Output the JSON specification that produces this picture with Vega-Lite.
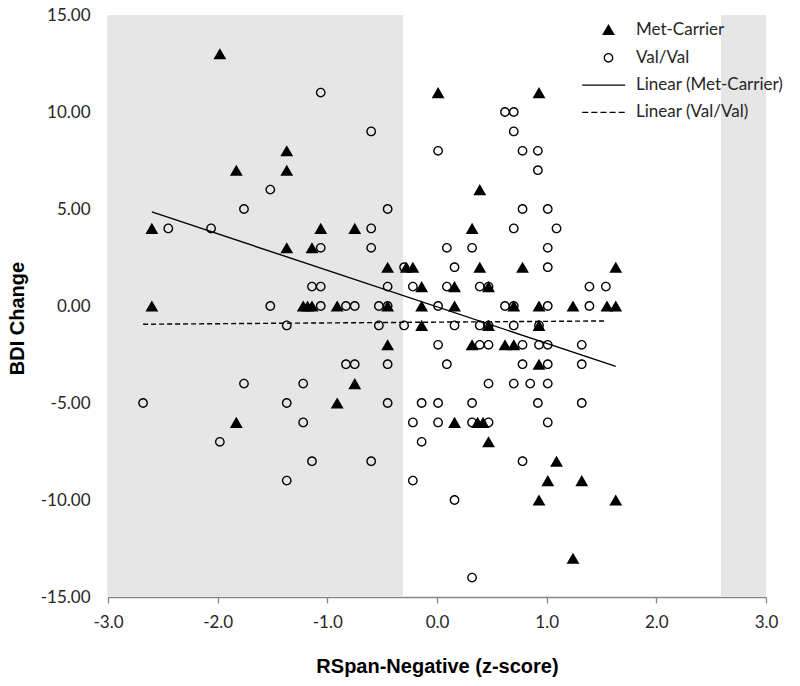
{
  "$schema": "https://vega.github.io/schema/vega-lite/v6.json",
  "width": 658,
  "height": 582,
  "autosize": {"type": "none"},
  "padding": {"left": 108, "top": 15, "right": 34, "bottom": 89},
  "background": "white",
  "datasets": {
    "shade": [
      {"x0": -3, "x1": -0.31},
      {"x0": 2.59, "x1": 3}
    ],
    "trend": [
      {"group": "Linear (Met-Carrier)", "x": -2.6, "y": 4.85},
      {"group": "Linear (Met-Carrier)", "x": 1.63, "y": -3.11},
      {"group": "Linear (Val/Val)", "x": -2.68, "y": -0.94},
      {"group": "Linear (Val/Val)", "x": 1.54, "y": -0.77}
    ],
    "points": [
      {"group": "Met-Carrier", "x": -2.6, "y": 4},
      {"group": "Met-Carrier", "x": -2.6, "y": 0},
      {"group": "Met-Carrier", "x": -1.98, "y": 13},
      {"group": "Met-Carrier", "x": -1.83, "y": 7},
      {"group": "Met-Carrier", "x": -1.83, "y": -6},
      {"group": "Met-Carrier", "x": -1.37, "y": 8},
      {"group": "Met-Carrier", "x": -1.37, "y": 7},
      {"group": "Met-Carrier", "x": -1.37, "y": 3},
      {"group": "Met-Carrier", "x": -1.14, "y": 3},
      {"group": "Met-Carrier", "x": -1.06, "y": 4},
      {"group": "Met-Carrier", "x": -1.22, "y": 0},
      {"group": "Met-Carrier", "x": -1.18, "y": 0},
      {"group": "Met-Carrier", "x": -1.14, "y": 0},
      {"group": "Met-Carrier", "x": -0.91, "y": 0},
      {"group": "Met-Carrier", "x": -0.91, "y": -5},
      {"group": "Met-Carrier", "x": -0.75, "y": 4},
      {"group": "Met-Carrier", "x": -0.75, "y": -4},
      {"group": "Met-Carrier", "x": -0.45, "y": 2},
      {"group": "Met-Carrier", "x": -0.28, "y": 2},
      {"group": "Met-Carrier", "x": -0.22, "y": 2},
      {"group": "Met-Carrier", "x": -0.45, "y": 0},
      {"group": "Met-Carrier", "x": -0.45, "y": -2},
      {"group": "Met-Carrier", "x": -0.14, "y": 1},
      {"group": "Met-Carrier", "x": -0.14, "y": 0},
      {"group": "Met-Carrier", "x": -0.14, "y": -1},
      {"group": "Met-Carrier", "x": 0.01, "y": 11},
      {"group": "Met-Carrier", "x": 0.16, "y": 1},
      {"group": "Met-Carrier", "x": 0.16, "y": 0},
      {"group": "Met-Carrier", "x": 0.16, "y": -6},
      {"group": "Met-Carrier", "x": 0.32, "y": 4},
      {"group": "Met-Carrier", "x": 0.32, "y": -2},
      {"group": "Met-Carrier", "x": 0.39, "y": 6},
      {"group": "Met-Carrier", "x": 0.39, "y": 2},
      {"group": "Met-Carrier", "x": 0.37, "y": -6},
      {"group": "Met-Carrier", "x": 0.42, "y": -6},
      {"group": "Met-Carrier", "x": 0.47, "y": 1},
      {"group": "Met-Carrier", "x": 0.47, "y": -1},
      {"group": "Met-Carrier", "x": 0.47, "y": -7},
      {"group": "Met-Carrier", "x": 0.62, "y": -2},
      {"group": "Met-Carrier", "x": 0.7, "y": -2},
      {"group": "Met-Carrier", "x": 0.7, "y": 0},
      {"group": "Met-Carrier", "x": 0.78, "y": 2},
      {"group": "Met-Carrier", "x": 0.93, "y": 11},
      {"group": "Met-Carrier", "x": 0.93, "y": 0},
      {"group": "Met-Carrier", "x": 0.93, "y": -1},
      {"group": "Met-Carrier", "x": 0.93, "y": -3},
      {"group": "Met-Carrier", "x": 0.93, "y": -10},
      {"group": "Met-Carrier", "x": 1.01, "y": -9},
      {"group": "Met-Carrier", "x": 1.09, "y": -8},
      {"group": "Met-Carrier", "x": 1.24, "y": 0},
      {"group": "Met-Carrier", "x": 1.24, "y": -13},
      {"group": "Met-Carrier", "x": 1.32, "y": -9},
      {"group": "Met-Carrier", "x": 1.55, "y": 0},
      {"group": "Met-Carrier", "x": 1.63, "y": 0},
      {"group": "Met-Carrier", "x": 1.63, "y": 2},
      {"group": "Met-Carrier", "x": 1.63, "y": -10},
      {"group": "Val/Val", "x": -2.68, "y": -5},
      {"group": "Val/Val", "x": -2.45, "y": 4},
      {"group": "Val/Val", "x": -2.06, "y": 4},
      {"group": "Val/Val", "x": -1.98, "y": -7},
      {"group": "Val/Val", "x": -1.76, "y": 5},
      {"group": "Val/Val", "x": -1.76, "y": -4},
      {"group": "Val/Val", "x": -1.52, "y": 6},
      {"group": "Val/Val", "x": -1.52, "y": 0},
      {"group": "Val/Val", "x": -1.37, "y": -1},
      {"group": "Val/Val", "x": -1.37, "y": -5},
      {"group": "Val/Val", "x": -1.37, "y": -9},
      {"group": "Val/Val", "x": -1.22, "y": -4},
      {"group": "Val/Val", "x": -1.22, "y": -6},
      {"group": "Val/Val", "x": -1.14, "y": 1},
      {"group": "Val/Val", "x": -1.06, "y": 1},
      {"group": "Val/Val", "x": -1.06, "y": 3},
      {"group": "Val/Val", "x": -1.06, "y": 11},
      {"group": "Val/Val", "x": -1.14, "y": -8},
      {"group": "Val/Val", "x": -1.06, "y": 0},
      {"group": "Val/Val", "x": -0.83, "y": 0},
      {"group": "Val/Val", "x": -0.75, "y": 0},
      {"group": "Val/Val", "x": -0.83, "y": -3},
      {"group": "Val/Val", "x": -0.75, "y": -3},
      {"group": "Val/Val", "x": -0.6, "y": 9},
      {"group": "Val/Val", "x": -0.6, "y": 4},
      {"group": "Val/Val", "x": -0.6, "y": 3},
      {"group": "Val/Val", "x": -0.6, "y": -8},
      {"group": "Val/Val", "x": -0.53, "y": 0},
      {"group": "Val/Val", "x": -0.53, "y": -1},
      {"group": "Val/Val", "x": -0.45, "y": 5},
      {"group": "Val/Val", "x": -0.45, "y": 1},
      {"group": "Val/Val", "x": -0.45, "y": 0},
      {"group": "Val/Val", "x": -0.45, "y": -3},
      {"group": "Val/Val", "x": -0.45, "y": -5},
      {"group": "Val/Val", "x": -0.3, "y": 2},
      {"group": "Val/Val", "x": -0.3, "y": -1},
      {"group": "Val/Val", "x": -0.22, "y": 1},
      {"group": "Val/Val", "x": -0.22, "y": -6},
      {"group": "Val/Val", "x": -0.22, "y": -9},
      {"group": "Val/Val", "x": -0.14, "y": -5},
      {"group": "Val/Val", "x": -0.14, "y": -7},
      {"group": "Val/Val", "x": 0.01, "y": 8},
      {"group": "Val/Val", "x": 0.01, "y": 0},
      {"group": "Val/Val", "x": 0.01, "y": -2},
      {"group": "Val/Val", "x": 0.01, "y": -5},
      {"group": "Val/Val", "x": 0.01, "y": -6},
      {"group": "Val/Val", "x": 0.09, "y": 3},
      {"group": "Val/Val", "x": 0.09, "y": 1},
      {"group": "Val/Val", "x": 0.09, "y": -3},
      {"group": "Val/Val", "x": 0.16, "y": 2},
      {"group": "Val/Val", "x": 0.16, "y": -1},
      {"group": "Val/Val", "x": 0.16, "y": -10},
      {"group": "Val/Val", "x": 0.32, "y": 3},
      {"group": "Val/Val", "x": 0.32, "y": -5},
      {"group": "Val/Val", "x": 0.32, "y": -6},
      {"group": "Val/Val", "x": 0.32, "y": -14},
      {"group": "Val/Val", "x": 0.39, "y": 1},
      {"group": "Val/Val", "x": 0.39, "y": -1},
      {"group": "Val/Val", "x": 0.39, "y": -2},
      {"group": "Val/Val", "x": 0.47, "y": 1},
      {"group": "Val/Val", "x": 0.47, "y": -1},
      {"group": "Val/Val", "x": 0.47, "y": -2},
      {"group": "Val/Val", "x": 0.47, "y": -4},
      {"group": "Val/Val", "x": 0.47, "y": -6},
      {"group": "Val/Val", "x": 0.62, "y": 10},
      {"group": "Val/Val", "x": 0.7, "y": 10},
      {"group": "Val/Val", "x": 0.7, "y": 9},
      {"group": "Val/Val", "x": 0.7, "y": 4},
      {"group": "Val/Val", "x": 0.62, "y": 0},
      {"group": "Val/Val", "x": 0.7, "y": 0},
      {"group": "Val/Val", "x": 0.7, "y": -1},
      {"group": "Val/Val", "x": 0.7, "y": -4},
      {"group": "Val/Val", "x": 0.78, "y": 8},
      {"group": "Val/Val", "x": 0.78, "y": 5},
      {"group": "Val/Val", "x": 0.78, "y": -2},
      {"group": "Val/Val", "x": 0.78, "y": -3},
      {"group": "Val/Val", "x": 0.78, "y": -8},
      {"group": "Val/Val", "x": 0.85, "y": -4},
      {"group": "Val/Val", "x": 0.92, "y": 8},
      {"group": "Val/Val", "x": 0.92, "y": 7},
      {"group": "Val/Val", "x": 0.93, "y": -1},
      {"group": "Val/Val", "x": 0.93, "y": -2},
      {"group": "Val/Val", "x": 0.92, "y": -5},
      {"group": "Val/Val", "x": 1.01, "y": 5},
      {"group": "Val/Val", "x": 1.09, "y": 4},
      {"group": "Val/Val", "x": 1.01, "y": 3},
      {"group": "Val/Val", "x": 1.01, "y": 2},
      {"group": "Val/Val", "x": 1.01, "y": 0},
      {"group": "Val/Val", "x": 1.01, "y": -2},
      {"group": "Val/Val", "x": 1.01, "y": -3},
      {"group": "Val/Val", "x": 1.01, "y": -4},
      {"group": "Val/Val", "x": 1.01, "y": -6},
      {"group": "Val/Val", "x": 1.32, "y": -2},
      {"group": "Val/Val", "x": 1.32, "y": -3},
      {"group": "Val/Val", "x": 1.32, "y": -5},
      {"group": "Val/Val", "x": 1.39, "y": 1},
      {"group": "Val/Val", "x": 1.39, "y": 0},
      {"group": "Val/Val", "x": 1.54, "y": 1}
    ]
  },
  "layer": [
    {
      "data": {"name": "shade"},
      "mark": {"type": "rect", "color": "#e6e6e6"},
      "encoding": {
        "x": {
          "field": "x0",
          "type": "quantitative",
          "title": "RSpan-Negative (z-score)",
          "scale": {"domain": [-3, 3], "nice": false, "zero": false},
          "axis": {
            "values": [-3, -2, -1, 0, 1, 2, 3],
            "labelExpr": "replace(format(datum.value, '.1f'), '\u2212', '-')",
            "tickSize": 6,
            "labelPadding": 11,
            "labelFlush": false,
            "titleY": 69
          }
        },
        "x2": {"field": "x1"}
      }
    },
    {
      "data": {"name": "trend"},
      "transform": [{"filter": "datum.group == 'Linear (Met-Carrier)'"}],
      "mark": {"type": "line", "color": "black", "strokeWidth": 1.4},
      "encoding": {
        "x": {"field": "x", "type": "quantitative", "title": "RSpan-Negative (z-score)"},
        "y": {"field": "y", "type": "quantitative", "title": "BDI Change"}
      }
    },
    {
      "data": {"name": "trend"},
      "transform": [{"filter": "datum.group == 'Linear (Val/Val)'"}],
      "mark": {"type": "line", "color": "black", "strokeWidth": 1.4, "strokeDash": [5, 3]},
      "encoding": {
        "x": {"field": "x", "type": "quantitative", "title": "RSpan-Negative (z-score)"},
        "y": {"field": "y", "type": "quantitative", "title": "BDI Change"}
      }
    },
    {
      "data": {"name": "points"},
      "mark": {"type": "point", "size": 165, "filled": true, "color": "black", "opacity": 1},
      "encoding": {
        "x": {"field": "x", "type": "quantitative", "title": "RSpan-Negative (z-score)"},
        "y": {
          "field": "y",
          "type": "quantitative",
          "title": "BDI Change",
          "scale": {"domain": [-15, 15], "nice": false, "zero": false},
          "axis": {
            "values": [-15, -10, -5, 0, 5, 10, 15],
            "labelExpr": "replace(format(datum.value, '.2f'), '\u2212', '-')",
            "ticks": false,
            "tickSize": 0,
            "labelPadding": 18,
            "titleX": -91,
            "titleY": 303
          }
        },
        "shape": {
          "field": "group",
          "type": "nominal",
          "scale": {
            "domain": ["Met-Carrier", "Val/Val", "Linear (Met-Carrier)", "Linear (Val/Val)"],
            "range": [
              "triangle-up",
              "M0.76,0A0.76,0.76,0,1,1,-0.76,0A0.76,0.76,0,1,1,0.76,0ZM0.55,0A0.55,0.55,0,1,0,-0.55,0A0.55,0.55,0,1,0,0.55,0Z",
              "M-4.1,-0.1H2.6V0.1H-4.1Z",
              "M-4.1,-0.1H-3.15V0.1H-4.1ZM-2.68,-0.1H-1.73V0.1H-2.68ZM-1.26,-0.1H-0.31V0.1H-1.26ZM0.16,-0.1H1.11V0.1H0.16ZM1.58,-0.1H2.53V0.1H1.58Z"
            ]
          },
          "legend": {
            "title": null,
            "orient": "none",
            "legendX": 492,
            "legendY": 6,
            "symbolSize": 165,
            "labelOffset": 19,
            "rowPadding": 9.3,
            "padding": 0
          }
        }
      }
    }
  ],
  "config": {
    "view": {"stroke": null},
    "axis": {
      "grid": false,
      "domainColor": "#868686",
      "domainWidth": 1.3,
      "tickColor": "#868686",
      "tickWidth": 1.3,
      "labelFont": "Lato",
      "labelFontSize": 17,
      "labelColor": "#262626",
      "titleFont": "Liberation Sans",
      "titleFontSize": 20,
      "titleFontWeight": "bold",
      "titleColor": "black",
      "titleBaseline": "middle"
    },
    "legend": {
      "labelFont": "Lato",
      "labelFontSize": 17,
      "labelColor": "#262626",
      "labelLimit": 300
    }
  }
}
